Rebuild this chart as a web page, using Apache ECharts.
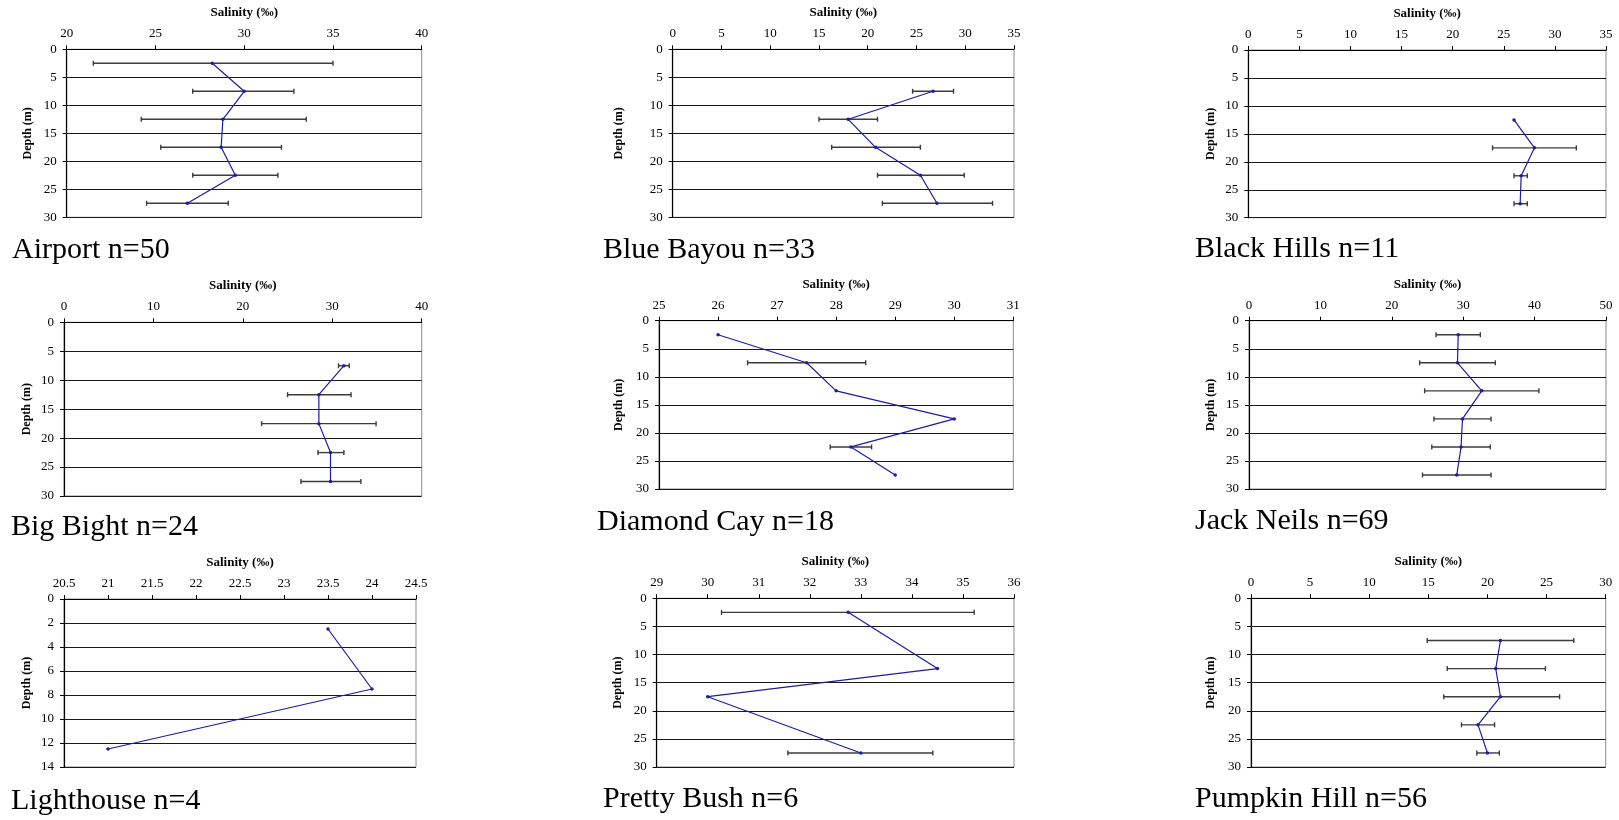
<!DOCTYPE html>
<html>
<head>
<meta charset="utf-8">
<script src="https://cdn.jsdelivr.net/npm/echarts@6/dist/echarts.min.js"></script>
<style>
  html, body { margin: 0; padding: 0; background: #fff; }
  #chart { width: 1619px; height: 820px; }
</style>
</head>
<body>
<div id="chart"></div>
<script>
// Salinity profiles by station: depth bin (m), mean salinity (‰), lower / upper bar ends (null = no bar)
const airportDepth = [2.5, 7.5, 12.5, 17.5, 22.5, 27.5];
const airportMean  = [28.2, 30.0, 28.8, 28.7, 29.5, 26.8];
const airportLow   = [21.5, 27.1, 24.2, 25.3, 27.1, 24.5];
const airportHigh  = [35.0, 32.8, 33.5, 32.1, 31.9, 29.1];

const blueBayouDepth = [7.5, 12.5, 17.5, 22.5, 27.5];
const blueBayouMean  = [26.7, 18.0, 20.8, 25.4, 27.1];
const blueBayouLow   = [24.6, 15.0, 16.3, 21.0, 21.5];
const blueBayouHigh  = [28.8, 21.0, 25.4, 29.9, 32.8];

const blackHillsDepth = [12.5, 17.5, 22.5, 27.5];
const blackHillsMean  = [26.0, 28.0, 26.7, 26.6];
const blackHillsLow   = [null, 23.9, 26.0, 26.0];
const blackHillsHigh  = [null, 32.1, 27.3, 27.3];

const bigBightDepth = [7.5, 12.5, 17.5, 22.5, 27.5];
const bigBightMean  = [31.3, 28.5, 28.5, 29.8, 29.8];
const bigBightLow   = [30.7, 25.0, 22.1, 28.4, 26.5];
const bigBightHigh  = [31.9, 32.1, 34.9, 31.3, 33.2];

const diamondCayDepth = [2.5, 7.5, 12.5, 17.5, 22.5, 27.5];
const diamondCayMean  = [26.0, 27.5, 28.0, 30.0, 28.25, 29.0];
const diamondCayLow   = [null, 26.5, null, null, 27.9, null];
const diamondCayHigh  = [null, 28.5, null, null, 28.6, null];

const jackNeilsDepth = [2.5, 7.5, 12.5, 17.5, 22.5, 27.5];
const jackNeilsMean  = [29.3, 29.2, 32.6, 29.9, 29.7, 29.1];
const jackNeilsLow   = [26.2, 23.9, 24.6, 25.9, 25.6, 24.3];
const jackNeilsHigh  = [32.4, 34.5, 40.6, 33.9, 33.8, 33.9];

const lighthouseDepth = [2.5, 7.5, 12.5];
const lighthouseMean  = [23.5, 24.0, 21.0];
const lighthouseLow   = [null, null, null];
const lighthouseHigh  = [null, null, null];

const prettyBushDepth = [2.5, 12.5, 17.5, 27.5];
const prettyBushMean  = [32.75, 34.5, 30.0, 33.0];
const prettyBushLow   = [30.27, null, null, 31.57];
const prettyBushHigh  = [35.22, null, null, 34.41];

const pumpkinHillDepth = [7.5, 12.5, 17.5, 22.5, 27.5];
const pumpkinHillMean  = [21.1, 20.7, 21.1, 19.2, 20.0];
const pumpkinHillLow   = [14.9, 16.6, 16.3, 17.8, 19.1];
const pumpkinHillHigh  = [27.3, 24.9, 26.1, 20.6, 21.0];

// Station labels
const stationNames = [
  'Airport n=50', 'Blue Bayou n=33', 'Black Hills n=11',
  'Big Bight n=24', 'Diamond Cay n=18', 'Jack Neils n=69',
  'Lighthouse n=4', 'Pretty Bush n=6', 'Pumpkin Hill n=56'
];

// Axis ranges [min, max, tick step]
const salinityTicks = [
  [20, 40, 5], [0, 35, 5], [0, 35, 5],
  [0, 40, 10], [25, 31, 1], [0, 50, 10],
  [20.5, 24.5, 0.5], [29, 36, 1], [0, 30, 5]
];
const depthTicks = [
  [0, 30, 5], [0, 30, 5], [0, 30, 5],
  [0, 30, 5], [0, 30, 5], [0, 30, 5],
  [0, 14, 2], [0, 30, 5], [0, 30, 5]
];

const profiles = [
  [airportDepth, airportMean, airportLow, airportHigh],
  [blueBayouDepth, blueBayouMean, blueBayouLow, blueBayouHigh],
  [blackHillsDepth, blackHillsMean, blackHillsLow, blackHillsHigh],
  [bigBightDepth, bigBightMean, bigBightLow, bigBightHigh],
  [diamondCayDepth, diamondCayMean, diamondCayLow, diamondCayHigh],
  [jackNeilsDepth, jackNeilsMean, jackNeilsLow, jackNeilsHigh],
  [lighthouseDepth, lighthouseMean, lighthouseLow, lighthouseHigh],
  [prettyBushDepth, prettyBushMean, prettyBushLow, prettyBushHigh],
  [pumpkinHillDepth, pumpkinHillMean, pumpkinHillLow, pumpkinHillHigh]
];

// Panel placement: plot box [left, top, right, bottom], depth-label offset, title anchor [x, y]
const layout = [
  { box: [66.7, 49.3, 421.7, 217.3],  yName: 38.7, title: [12, 250.5] },
  { box: [672.7, 49.3, 1014, 217.3],  yName: 53.7, title: [603, 250] },
  { box: [1248.3, 50, 1606, 217.7],   yName: 37.5, title: [1195, 249] },
  { box: [64, 322.3, 421.7, 496],     yName: 37.3, title: [11, 526.7] },
  { box: [659, 320.7, 1013.3, 489],   yName: 40,   title: [597, 522.5] },
  { box: [1249, 320.7, 1606, 489],    yName: 38,   title: [1195, 521] },
  { box: [64, 599, 416, 767],         yName: 37.3, title: [11, 800.8] },
  { box: [656.7, 598.3, 1014, 767],   yName: 38.3, title: [603, 799] },
  { box: [1251, 598.3, 1605.7, 767],  yName: 39.7, title: [1195, 799] }
];

const SERIF = '"Liberation Serif", "Times New Roman", serif';
const LINE_BLUE = '#1c1ca6';
const BAR_GREY = '#3c3c3c';

function renderErrorBar(params, api) {
  const depth = api.value(2);
  const a = api.coord([api.value(0), depth]);
  const b = api.coord([api.value(1), depth]);
  const cap = 2.5;
  const style = { stroke: BAR_GREY, lineWidth: 1.4 };
  return {
    type: 'group',
    children: [
      { type: 'line', shape: { x1: a[0], y1: a[1], x2: b[0], y2: b[1] }, style },
      { type: 'line', shape: { x1: a[0], y1: a[1] - cap, x2: a[0], y2: a[1] + cap }, style },
      { type: 'line', shape: { x1: b[0], y1: b[1] - cap, x2: b[0], y2: b[1] + cap }, style }
    ]
  };
}

const grid = [], xAxis = [], yAxis = [], series = [], graphic = [];

profiles.forEach(([depth, mean, low, high], i) => {
  const [l, t, r, b] = layout[i].box;
  grid.push({
    left: l, top: t, width: r - l, height: b - t,
    show: true, borderColor: '#8c8c8c', borderWidth: 1, backgroundColor: 'transparent'
  });

  const [xMin, xMax, xStep] = salinityTicks[i];
  xAxis.push({
    gridIndex: i, type: 'value', position: 'top',
    min: xMin, max: xMax, interval: xStep,
    name: 'Salinity (‰)', nameLocation: 'middle', nameGap: 30,
    nameTextStyle: { fontFamily: SERIF, fontSize: 13, fontWeight: 'bold', color: '#000' },
    axisLine: { show: true, onZero: false, lineStyle: { color: '#000', width: 1.2 } },
    axisTick: { show: true, length: 4, lineStyle: { color: '#000' } },
    axisLabel: { fontFamily: SERIF, fontSize: 13, color: '#000', margin: 9 },
    splitLine: { show: false }
  });

  const [yMin, yMax, yStep] = depthTicks[i];
  yAxis.push({
    gridIndex: i, type: 'value', inverse: true,
    min: yMin, max: yMax, interval: yStep,
    name: 'Depth (m)', nameLocation: 'middle', nameRotate: 90, nameGap: layout[i].yName - 6,
    nameTextStyle: { fontFamily: SERIF, fontSize: 12, fontWeight: 'bold', color: '#000' },
    axisLine: { show: true, onZero: false, lineStyle: { color: '#000', width: 1.2 } },
    axisTick: { show: true, length: 4, lineStyle: { color: '#000' } },
    axisLabel: { fontFamily: SERIF, fontSize: 13, color: '#000', margin: 10 },
    splitLine: { show: true, lineStyle: { color: '#1a1a1a', width: 1 } }
  });

  const bars = [];
  depth.forEach((d, k) => {
    if (low[k] !== null && high[k] !== null) bars.push([low[k], high[k], d]);
  });
  series.push({
    type: 'custom', xAxisIndex: i, yAxisIndex: i,
    renderItem: renderErrorBar, data: bars, z: 2, silent: true
  });
  series.push({
    type: 'line', xAxisIndex: i, yAxisIndex: i,
    data: depth.map((d, k) => [mean[k], d]),
    symbol: 'circle', symbolSize: 3.5,
    itemStyle: { color: LINE_BLUE },
    lineStyle: { color: LINE_BLUE, width: 1.2 },
    z: 3, silent: true
  });

  const [tx, ty] = layout[i].title;
  graphic.push({
    type: 'text', x: tx, y: ty, silent: true,
    style: {
      text: stationNames[i], font: '30px ' + SERIF, fill: '#000',
      align: 'left', verticalAlign: 'middle',
      textAlign: 'left', textVerticalAlign: 'middle'
    }
  });
});

const chart = echarts.init(document.getElementById('chart'), null, { renderer: 'canvas' });
chart.setOption({
  animation: false,
  backgroundColor: '#fff',
  grid, xAxis, yAxis, series, graphic
});
</script>
</body>
</html>
